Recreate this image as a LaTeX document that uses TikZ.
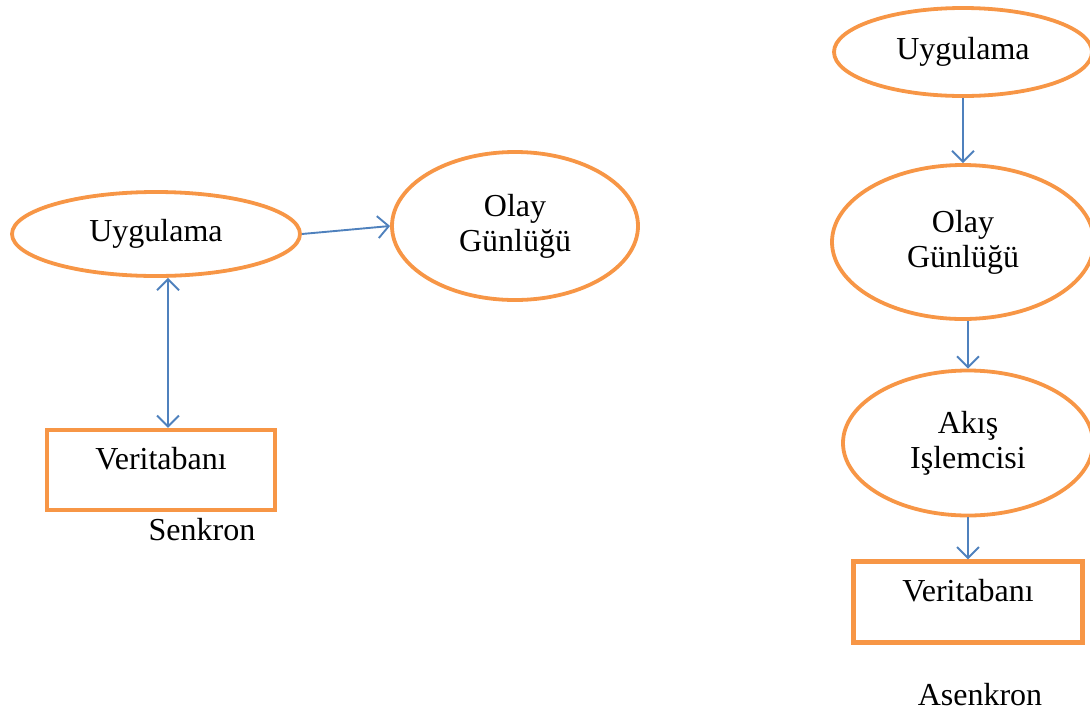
\documentclass[tikz,border=0pt]{standalone}
\usepackage{fontspec}
\setmainfont{Liberation Serif}
\usetikzlibrary{shapes.geometric,arrows.meta}
\definecolor{boxorange}{HTML}{F79646}
\definecolor{linkblue}{HTML}{4F81BD}
\begin{document}
\begin{tikzpicture}[x=1pt,y=-1pt,
  every node/.style={font=\fontsize{32}{35}\selectfont, text=black},
  oval/.style={ellipse, draw=boxorange, line width=3.8pt, inner sep=0pt, align=center},
  dbbox/.style={rectangle, draw=boxorange, line width=4.2pt, inner sep=0pt,
    minimum width=228pt, minimum height=80pt, text height=22pt, text depth=24pt},
  barb/.tip={Straight Barb[length=11pt,width=22pt,line width=1.9pt]},
  link/.style={draw=linkblue, line width=1.9pt, -barb},
  twoway/.style={draw=linkblue, line width=1.9pt, barb-barb}
]
\useasboundingbox (0,0) rectangle (1090,713);
\clip (0,0) rectangle (1090,713);

% synchronous flow
\node[oval, minimum width=288pt, minimum height=84pt] (app1) at (156,234) {Uygulama};
\node[oval, minimum width=246pt, minimum height=148pt] (log1) at (515,226) {Olay\\Günlüğü};
\node[dbbox] (db1) at (161,470) {Veritabanı};
\node[anchor=base] (sync) at (202,540) {Senkron};

\draw[link] (app1.east) -- (log1.west);
\draw[twoway] ([xshift=12pt]app1.south) -- ([xshift=7pt]db1.north);

% asynchronous flow
\node[oval, minimum width=258pt, minimum height=88pt] (app2) at (963,52) {Uygulama};
\node[oval, minimum width=262pt, minimum height=154pt] (log2) at (963,242) {Olay\\Günlüğü};
\node[oval, minimum width=250pt, minimum height=145pt] (proc) at (968,443) {Akış\\Işlemcisi};
\node[dbbox, minimum width=229pt, minimum height=81pt] (db2) at (968,602) {Veritabanı};
\node[anchor=base] (async) at (980,705) {Asenkron};

\draw[link] (app2.south) -- (log2.north);
\draw[link] (proc.north |- log2.south) -- (proc.north);
\draw[link] (proc.south) -- (db2.north);
\end{tikzpicture}
\end{document}
